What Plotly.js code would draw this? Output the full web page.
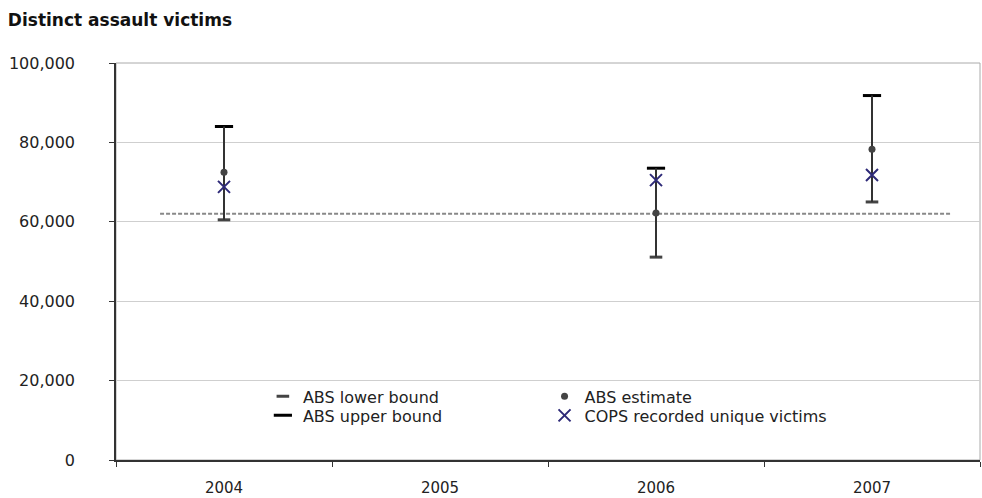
<!DOCTYPE html>
<html>
<head>
<meta charset="utf-8">
<script src="https://cdn.plot.ly/plotly-3.0.1.min.js"></script>
<style>html,body{margin:0;padding:0;background:#fff}#chart{width:982px;height:498px}</style>
</head>
<body>
<div id="chart"></div>
<script>
// ---- data ----
const categories = ['2004', '2005', '2006', '2007'];
const years = ['2004', '2006', '2007'];
const absLower = [60500, 51100, 65000];
const absUpper = [84000, 73500, 91800];
const absEstimate = [72500, 62200, 78300];
const copsVictims = [68800, 70500, 71800];
const referenceLevel = 62000;
const yTicks = [0, 20000, 40000, 60000, 80000, 100000];

const FONT = '"DejaVu Sans", Verdana, sans-serif';

const errPlus = absUpper.map((u, i) => u - absEstimate[i]);
const errMinus = absEstimate.map((e, i) => e - absLower[i]);

const traces = [
  {
    x: years, y: absLower, type: 'scatter', mode: 'markers', name: 'ABS lower bound',
    legend: 'legend',
    marker: {symbol: 'line-ew', size: 9, color: '#444', line: {color: '#444', width: 3}},
    hoverinfo: 'y'
  },
  {
    x: years, y: absUpper, type: 'scatter', mode: 'markers', name: 'ABS upper bound',
    legend: 'legend3',
    marker: {symbol: 'line-ew', size: 13, color: '#000', line: {color: '#000', width: 3}},
    hoverinfo: 'y'
  },
  {
    x: years, y: absEstimate, type: 'scatter', mode: 'markers', name: 'ABS estimate',
    legend: 'legend2',
    marker: {symbol: 'circle', size: 7, color: '#444'},
    error_y: {type: 'data', symmetric: false, array: errPlus, arrayminus: errMinus,
              width: 0, thickness: 2, color: '#333'},
    hoverinfo: 'y'
  },
  {
    x: years, y: copsVictims, type: 'scatter', mode: 'markers', name: 'COPS recorded unique victims',
    legend: 'legend4',
    marker: {symbol: 'x-thin', size: 12, color: '#2e2a78', line: {color: '#2e2a78', width: 2}},
    hoverinfo: 'y'
  }
];

const legendCommon = {
  bgcolor: 'rgba(0,0,0,0)', borderwidth: 0,
  font: {family: FONT, size: 16, color: '#222'},
  orientation: 'v', xanchor: 'left', yanchor: 'top',
  tracegroupgap: 0, itemwidth: 30
};
const col1 = 0.17, col2 = 0.496, row1 = 0.203, row2 = 0.155;

const layout = {
  width: 982, height: 498,
  margin: {l: 116, r: 2, t: 63, b: 38},
  paper_bgcolor: '#fff', plot_bgcolor: '#fff',
  font: {family: FONT, size: 15, color: '#222'},
  title: {
    text: '<b>Distinct assault victims</b>',
    font: {family: FONT, size: 17, color: '#111'},
    x: 0.008, xanchor: 'left', xref: 'container', y: 0.96, yanchor: 'middle'
  },
  showlegend: true,
  legend: Object.assign({}, legendCommon, {x: col1, y: row1}),
  legend2: Object.assign({}, legendCommon, {x: col2, y: row1}),
  legend3: Object.assign({}, legendCommon, {x: col1, y: row2}),
  legend4: Object.assign({}, legendCommon, {x: col2, y: row2}),
  xaxis: {
    type: 'category', categoryorder: 'array', categoryarray: categories,
    range: [-0.5, 3.5],
    tickson: 'boundaries', ticks: 'outside', ticklen: 5, tickcolor: '#333', tickwidth: 1,
    showline: true, linecolor: '#333', linewidth: 1.5,
    showgrid: false, zeroline: false,
    ticklabelstandoff: 13,
    tickfont: {family: FONT, size: 15, color: '#222'}
  },
  yaxis: {
    range: [0, 100000], tickvals: yTicks, tickformat: ',',
    ticks: 'outside', ticklen: 5, tickcolor: '#333', tickwidth: 1,
    showline: true, linecolor: '#333', linewidth: 1.5,
    showgrid: true, gridcolor: '#cfcfcf', gridwidth: 1,
    zeroline: false,
    ticklabelstandoff: 31,
    tickfont: {family: FONT, size: 16, color: '#222'}
  },
  shapes: [
    {type: 'rect', xref: 'paper', yref: 'paper', x0: 0, x1: 1, y0: 0, y1: 1,
     line: {color: '#aaa', width: 1}, layer: 'below'},
    {type: 'line', xref: 'paper', yref: 'y', x0: 0.051, x1: 0.966,
     y0: referenceLevel, y1: referenceLevel,
     line: {color: '#888', width: 2, dash: '4px,2px'}, layer: 'below'}
  ]
};

Plotly.newPlot('chart', traces, layout, {displayModeBar: false, responsive: false});
</script>
</body>
</html>
